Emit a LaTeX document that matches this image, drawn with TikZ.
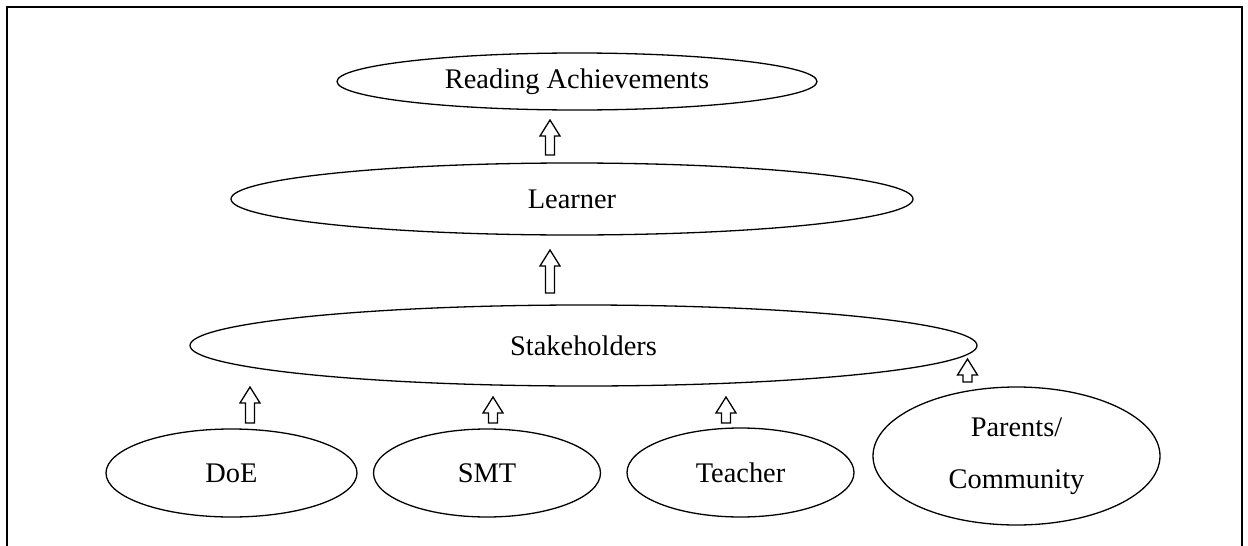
\documentclass[tikz,border=0pt]{standalone}
\usepackage{fontspec}
\setmainfont{Liberation Serif}
\usetikzlibrary{shapes.geometric}
\tikzset{
	oval/.style={draw, ellipse, inner sep=0pt, line width=0.65pt, align=center,
		font=\fontsize{14.2}{26}\selectfont},
	hollowup/.pic={\draw[line width=0.65pt] (-4.5,0) -- (-4.5,-#1+16) -- (-10,-#1+16) -- (0,-#1) -- (10,-#1+16) -- (4.5,-#1+16) -- (4.5,0) -- cycle;}
}
\begin{document}
\begin{tikzpicture}[x=0.5pt, y=-0.5pt]
		\useasboundingbox (0,0) rectangle (1248,546);
		\draw[line width=1pt] (7,546) -- (7,7) -- (1242,7) -- (1242,546);
		\node[oval, minimum width=240pt, minimum height=28.5pt] (ach) at (577,81.5) {Reading Achievements};
		\node[oval, minimum width=341pt, minimum height=36pt] (learner) at (572,199) {Learner};
		\node[oval, minimum width=393.5pt, minimum height=40.5pt] (stake) at (583.5,345.5) {Stakeholders};
		\node[oval, minimum width=125.5pt, minimum height=44pt] (doe) at (231.5,473) {DoE};
		\node[oval, minimum width=113.5pt, minimum height=44pt] (smt) at (487,473) {SMT};
		\node[oval, minimum width=113.5pt, minimum height=44.5pt] (teacher) at (740.5,472.5) {Teacher};
		\node[oval, minimum width=143.5pt, minimum height=69pt] (parents) at (1016.5,456) {Parents/\\Community};
		\pic at (550,155) {hollowup=35};
		\pic at (550,293) {hollowup=43};
		\pic at (250,423) {hollowup=36};
		\pic at (493,423) {hollowup=26};
		\pic at (726,423) {hollowup=26};
		\pic at (967.5,382) {hollowup=23};
	\end{tikzpicture}
\end{document}
